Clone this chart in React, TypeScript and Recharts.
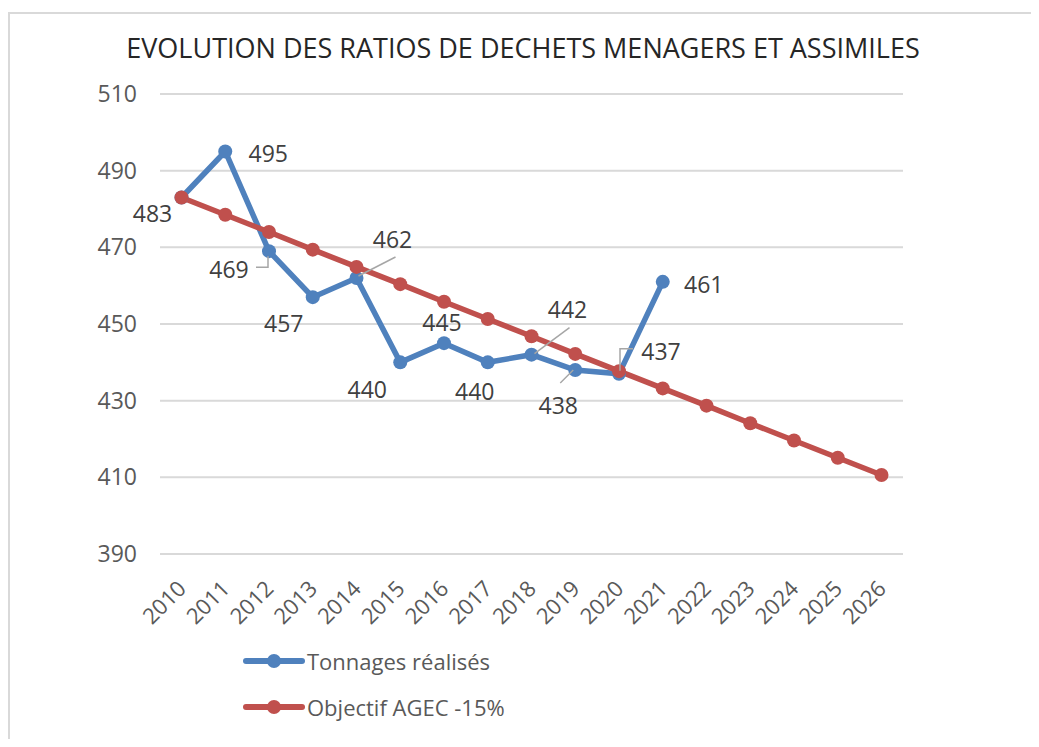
import { LineChart, Line, XAxis, YAxis, CartesianGrid, Legend, LabelList } from "recharts";

const years = [
  "2010", "2011", "2012", "2013", "2014", "2015", "2016", "2017", "2018",
  "2019", "2020", "2021", "2022", "2023", "2024", "2025", "2026",
];
const tonnages = [483, 495, 469, 457, 462, 440, 445, 440, 442, 438, 437, 461];
const objectif = [
  483, 478.5, 474.0, 469.4, 464.9, 460.4, 455.8, 451.3, 446.8,
  442.2, 437.7, 433.2, 428.7, 424.1, 419.6, 415.1, 410.6,
];
const yTicks = [390, 410, 430, 450, 470, 490, 510];

const TITLE = "EVOLUTION DES RATIOS DE DECHETS MENAGERS ET ASSIMILES";
const BLUE = "#4f81bd";
const RED = "#c0504d";
const FONT = "'Open Sans', sans-serif";

// where each data label sits relative to its point (like Excel's hand-placed labels)
const labelOffsets: [number, number][] = [
  [-29, 15], [43, 1], [-40, 18], [-29, 26], [36, -39], [-33, 27],
  [-2, -21], [-13, 29], [36, -46], [-17, 35], [42, -23], [41, 2],
];
// leader lines for the moved labels
const leaders: Record<number, [number, number][]> = {
  2: [[-13, 16], [-1, 16], [-1, 5]],
  4: [[2, -2], [39, -21]],
  8: [[3, -1], [38, -27]],
  9: [[-15, 13], [-2, 0]],
  10: [[1, -3], [1, -25], [14, -25]],
};

const data = years.map((year, i) => ({
  year,
  tonnages: i < tonnages.length ? tonnages[i] : null,
  objectif: objectif[i],
}));

function DataLabel(props: any) {
  const { x, y, value, index } = props;
  if (value == null) return null;
  const [dx, dy] = labelOffsets[index] || [0, -20];
  const pts = leaders[index];
  return (
    <g>
      {pts && (
        <polyline
          points={pts.map(([a, b]) => `${x + a},${y + b}`).join(" ")}
          fill="none"
          stroke="#a6a6a6"
          strokeWidth={1.5}
        />
      )}
      <text
        x={x + dx}
        y={y + dy}
        textAnchor="middle"
        dominantBaseline="central"
        fontSize={23}
        fontFamily={FONT}
        fill="#404040"
      >
        {value}
      </text>
    </g>
  );
}

function YearTick(props: any) {
  const { x, y, payload } = props;
  return (
    <g transform={`translate(${x + 6},${y + 36})`}>
      <text transform="rotate(-45)" textAnchor="end" fontSize={22} fontFamily={FONT} fill="#595959">
        {payload.value}
      </text>
    </g>
  );
}

function LegendBox() {
  const items = [
    { name: "Tonnages réalisés", color: BLUE },
    { name: "Objectif AGEC -15%", color: RED },
  ];
  return (
    <div style={{ fontFamily: FONT }}>
      {items.map((it) => (
        <div key={it.name} style={{ display: "flex", alignItems: "center", height: 46 }}>
          <svg width={62} height={16}>
            <line x1={3} y1={8} x2={59} y2={8} stroke={it.color} strokeWidth={6} strokeLinecap="round" />
            <circle cx={31} cy={8} r={7} fill={it.color} />
          </svg>
          <span style={{ fontSize: 22, color: "#595959", marginLeft: 2 }}>{it.name}</span>
        </div>
      ))}
    </div>
  );
}

export default function App() {
  return (
    <div style={{ position: "relative", width: 1023, height: 731, fontFamily: FONT }}>
      <div
        style={{
          position: "absolute", left: 0, top: 4, width: 1029, height: 725,
          borderLeft: "2px solid #d9d9d9", borderTop: "2px solid #d9d9d9",
        }}
      />
      <div style={{ position: "absolute", left: 0, top: 0 }}>
        <LineChart width={1023} height={731} data={data} margin={{ top: 86, right: 128, left: 0, bottom: 125 }}>
          <text x={515} y={50} textAnchor="middle" fontSize={27} fontFamily={FONT} fill="#262626">
            {TITLE}
          </text>
          <CartesianGrid vertical={false} stroke="#d9d9d9" strokeWidth={2} />
          <XAxis
            dataKey="year"
            height={60}
            axisLine={false}
            tickLine={false}
            tickSize={0}
            tickMargin={0}
            interval={0}
            padding={{ left: 21.5, right: 21.5 }}
            tick={<YearTick />}
          />
          <YAxis
            width={152}
            domain={[390, 510]}
            ticks={yTicks}
            axisLine={false}
            tickLine={false}
            tickSize={0}
            tickMargin={23}
            tick={{ fontSize: 23, fill: "#595959", fontFamily: FONT }}
          />
          <Legend
            layout="vertical"
            align="center"
            verticalAlign="middle"
            wrapperStyle={{ left: 235, top: 630, width: 300 }}
            content={<LegendBox />}
          />
          <Line
            dataKey="tonnages"
            name="Tonnages réalisés"
            stroke={BLUE}
            strokeWidth={5.5}
            dot={{ r: 7, fill: BLUE, stroke: "none" }}
            activeDot={false}
            isAnimationActive={false}
            connectNulls={false}
          >
            <LabelList dataKey="tonnages" content={<DataLabel />} />
          </Line>
          <Line
            dataKey="objectif"
            name="Objectif AGEC -15%"
            stroke={RED}
            strokeWidth={5.5}
            dot={{ r: 7, fill: RED, stroke: "none" }}
            activeDot={false}
            isAnimationActive={false}
          />
        </LineChart>
      </div>
    </div>
  );
}
